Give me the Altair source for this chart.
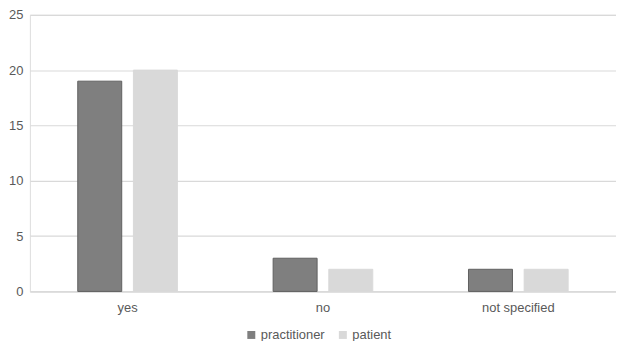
import altair as alt
import pandas as pd

categories = ["yes", "no", "not specified"]
series = ["practitioner", "patient"]
practitioner = [19, 3, 2]
patient = [20, 2, 2]

rows = []
for i, c in enumerate(categories):
    rows.append({"category": c, "series": "practitioner", "value": practitioner[i]})
    rows.append({"category": c, "series": "patient", "value": patient[i]})
df = pd.DataFrame(rows)

font = "Liberation Sans"
txt = "#595959"
fs = 13

chart = alt.Chart(df).mark_bar(strokeWidth=1).encode(
    x=alt.X("category:N", sort=categories, title=None,
            scale=alt.Scale(paddingInner=0.49, paddingOuter=0.245),
            axis=alt.Axis(labelAngle=0, ticks=False, domainColor="#d9d9d9",
                          labelPadding=10, labelColor=txt, labelFont=font,
                          labelFontSize=fs, grid=False)),
    xOffset=alt.XOffset("series:N", sort=series,
                        scale=alt.Scale(paddingInner=0.21, paddingOuter=0)),
    y=alt.Y("value:Q", title=None,
            scale=alt.Scale(domain=[0, 25]),
            axis=alt.Axis(values=[0, 5, 10, 15, 20, 25], ticks=False, domain=False,
                          gridColor="#d9d9d9", gridWidth=1.2, labelPadding=7,
                          labelColor=txt, labelFont=font, labelFontSize=fs)),
    color=alt.Color("series:N", sort=series,
                    scale=alt.Scale(domain=series, range=["#7f7f7f", "#d9d9d9"]),
                    legend=alt.Legend(title=None, orient="none", direction="horizontal",
                                      legendX=216, legendY=315, symbolType="square",
                                      symbolSize=64, symbolStrokeWidth=0,
                                      labelFont=font, labelFontSize=fs, labelColor=txt,
                                      columnPadding=11, labelOffset=3)),
    stroke=alt.Stroke("series:N", sort=series,
                      scale=alt.Scale(domain=series, range=["#606060", "#d9d9d9"]),
                      legend=None),
).properties(
    width=589, height=278,
    autosize=alt.AutoSizeParams(type="none"),
    padding={"left": 22, "top": 6, "right": 0, "bottom": 49},
).configure_view(stroke=None).configure(background="white")

chart.save("out.html", embed_options={"renderer": "svg", "actions": False})
